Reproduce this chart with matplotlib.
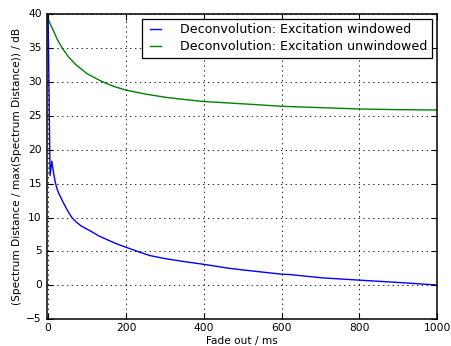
import matplotlib
matplotlib.use("Agg")
import matplotlib.pyplot as plt

# Fade-out length in ms and spectral distance (dB) for both excitation types
fade_windowed = [0, 5, 9.5, 14, 18, 22, 27, 33, 40, 50, 61, 72, 85, 106, 130,
                 153, 175, 196, 230, 261, 300, 350, 400, 467, 520, 560, 600,
                 620, 706, 800, 903, 960, 1000]
dist_windowed = [39.8, 16.2, 18.3, 16.6, 15.3, 14.4, 13.6, 12.9, 12.1, 11.0,
                 10.0, 9.35, 8.75, 8.1, 7.3, 6.7, 6.15, 5.7, 5.0, 4.4, 3.95,
                 3.5, 3.1, 2.5, 2.15, 1.9, 1.65, 1.6, 1.1, 0.77, 0.42, 0.2, 0.05]

fade_unwindowed = [0, 5, 14, 24, 36, 52, 72, 100, 140, 170, 199, 250, 304, 350,
                   400, 460, 518, 600, 700, 800, 900, 1000]
dist_unwindowed = [39.3, 38.6, 37.5, 36.2, 35.0, 33.7, 32.5, 31.2, 30.0, 29.3,
                   28.8, 28.2, 27.7, 27.4, 27.1, 26.9, 26.7, 26.4, 26.2, 26.0,
                   25.9, 25.85]

series_labels = ["Deconvolution: Excitation windowed",
                 "Deconvolution: Excitation unwindowed"]
x_ticks = [0, 200, 400, 600, 800, 1000]
y_ticks = [-5, 0, 5, 10, 15, 20, 25, 30, 35, 40]

plt.style.use("classic")
plt.rcParams["font.size"] = 7.7

fig = plt.figure(figsize=(4.52, 3.46), dpi=100)
fig.patch.set_facecolor("white")
ax = fig.add_axes([0.1047, 0.0772, 0.8628, 0.8823])

ax.plot(fade_windowed, dist_windowed, color="b", lw=1.0, label=series_labels[0])
ax.plot(fade_unwindowed, dist_unwindowed, color="g", lw=1.0, label=series_labels[1])

ax.set_xlim(-2, 1000)
ax.set_ylim(-5, 40)
ax.set_xticks(x_ticks)
ax.set_yticks(y_ticks)
ax.grid(True, color="black", linestyle=(0, (1, 2.5)), linewidth=0.6)
ax.tick_params(direction="in", length=4, width=0.8, labelsize=7.7)
ax.tick_params(axis="x", pad=3)
ax.tick_params(axis="y", pad=4)
for s in ax.spines.values():
    s.set_linewidth(1.1)

ax.set_xlabel("Fade out / ms", fontsize=7.6, labelpad=2)
ax.set_ylabel("(Spectrum Distance / max(Spectrum Distance)) / dB", fontsize=7.6,
              labelpad=3)

leg = ax.legend(loc="upper right", fontsize=9.1, numpoints=2, handlelength=1.5,
                borderpad=0.35, labelspacing=0.3, handletextpad=1.2,
                borderaxespad=0.4, fancybox=False, frameon=True)
leg.get_frame().set_linewidth(0.9)
leg.get_frame().set_edgecolor("black")

fig.savefig("out.png", dpi=100, facecolor="white")
